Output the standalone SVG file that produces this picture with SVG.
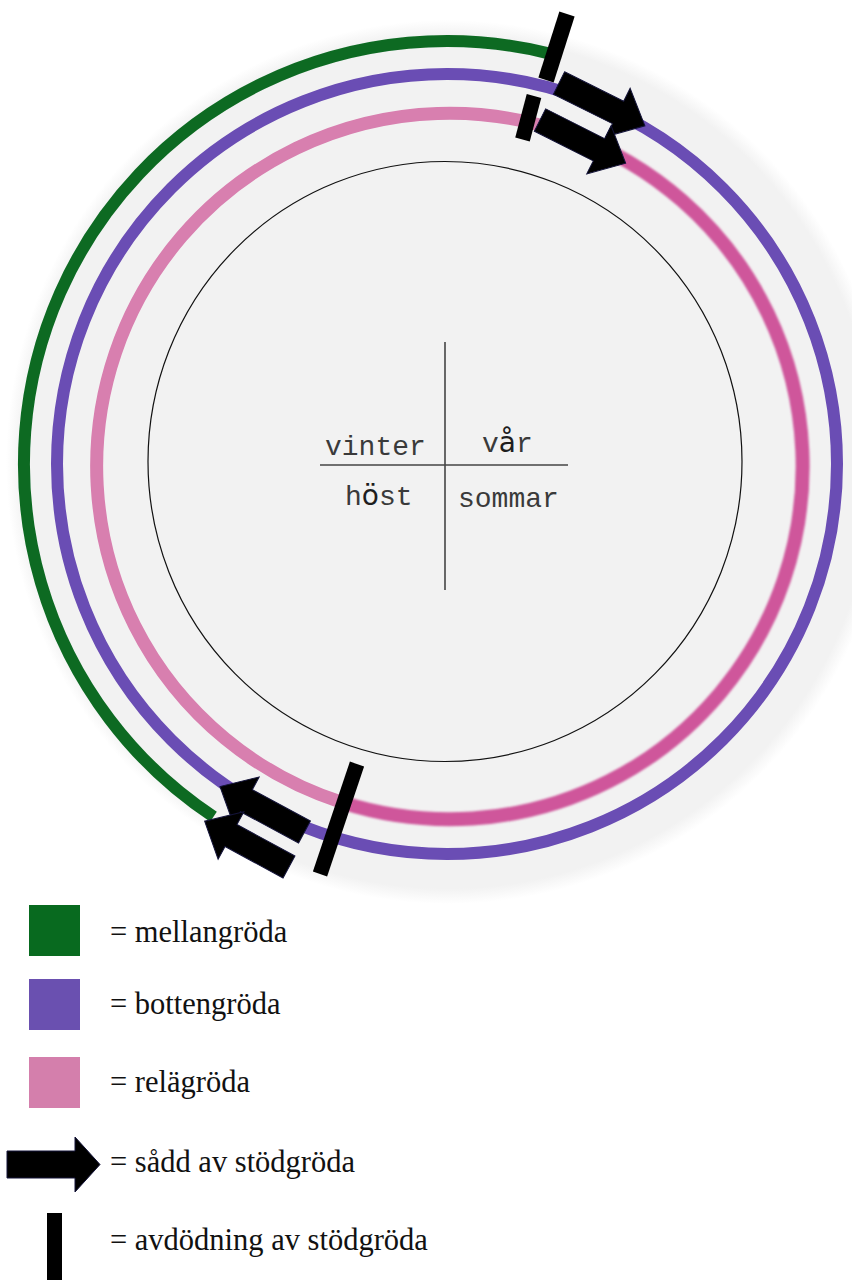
<svg xmlns="http://www.w3.org/2000/svg" width="852" height="1280" viewBox="0 0 852 1280">
  <defs>
    <style>
      .ring { fill: none; stroke-linecap: butt; }
      .green { stroke: #0b6a22; stroke-width: 12; }
      .purple { stroke: #6a4db4; stroke-width: 12; }
      .pink-light { stroke: #d87faf; stroke-width: 13; }
      .pink-dark { stroke: #cf579b; stroke-width: 14; }
      .bar { stroke: #000; stroke-linecap: butt; }
      .arrow { fill: #000; stroke: #14143a; stroke-width: 1; stroke-linejoin: miter; }
      .season { font-family: "Liberation Mono", "DejaVu Sans Mono", monospace; font-size: 28px; fill: #3a3a3a; }
      .season .acc { font-family: "DejaVu Sans", sans-serif; fill: #1e1e1e; }
      .legend { font-family: "Liberation Serif", "Times New Roman", serif; font-size: 30.5px; fill: #111; }
    </style>
    <radialGradient id="bgGrad" cx="448" cy="462" r="442" gradientUnits="userSpaceOnUse">
      <stop offset="0" stop-color="#f2f2f2"/>
      <stop offset="0.965" stop-color="#f2f2f2"/>
      <stop offset="1" stop-color="#ffffff"/>
    </radialGradient>
    <filter id="soft" x="-5%" y="-5%" width="110%" height="110%">
      <feGaussianBlur stdDeviation="0.6"/>
    </filter>
    <filter id="softer" x="-5%" y="-5%" width="110%" height="110%">
      <feGaussianBlur stdDeviation="1.3"/>
    </filter>
    <!-- block arrow pointing along +x, tail at the origin -->
    <path id="arrowShape" d="M0,-12.5 L66,-12.5 L66,-27 L96,0 L66,27 L66,12.5 L0,12.5 Z"/>
  </defs>

  <rect width="852" height="1280" fill="#ffffff"/>

  <!-- pale disc behind the year wheel -->
  <circle id="background" cx="448" cy="462" r="442" fill="url(#bgGrad)"/>

  <!-- seasons: inner circle and quadrant cross -->
  <g id="seasons">
    <ellipse cx="445" cy="461.5" rx="297" ry="300" fill="none" stroke="#111" stroke-width="1.2"/>
    <line x1="445" y1="342" x2="445" y2="590" stroke="#444" stroke-width="1.6"/>
    <line x1="320" y1="465" x2="568" y2="465" stroke="#444" stroke-width="1.6"/>
    <text class="season" x="325" y="455">vinter</text>
    <text class="season" x="482" y="452">v<tspan class="acc">å</tspan>r</text>
    <text class="season" x="345" y="505">h<tspan class="acc">ö</tspan>st</text>
    <text class="season" x="458" y="507">sommar</text>
  </g>

  <!-- crop rings -->
  <g id="ring-mellangroda" filter="url(#soft)">
    <path class="ring green" d="M213.5,816.7 A423,423 0 0 1 550.8,53.9"/>
  </g>
  <g id="ring-bottengroda" filter="url(#soft)">
    <circle class="ring purple" cx="447" cy="464" r="390"/>
  </g>
  <g id="ring-relagroda">
    <path class="ring pink-light" filter="url(#soft)" d="M342.8,802.7 A353,353 0 1 1 569.7,134.3"/>
    <path class="ring pink-dark" filter="url(#softer)" d="M569.7,134.3 A353,353 0 0 1 342.8,802.7"/>
  </g>

  <!-- sowing and termination of the cover crop -->
  <g id="events">
    <g id="termination-top">
      <line class="bar" x1="567" y1="14" x2="546" y2="80" stroke-width="16"/>
      <line class="bar" x1="534" y1="96" x2="522.5" y2="139.5" stroke-width="15"/>
    </g>
    <g id="sowing-top">
      <use href="#arrowShape" class="arrow" transform="translate(559,83) rotate(26.5)"/>
      <use href="#arrowShape" class="arrow" transform="translate(540,120) rotate(26.8)"/>
    </g>
    <g id="termination-bottom">
      <line class="bar" x1="357" y1="764" x2="320" y2="874" stroke-width="15"/>
    </g>
    <g id="sowing-bottom">
      <use href="#arrowShape" class="arrow" transform="translate(304.5,832) rotate(208.3)"/>
      <use href="#arrowShape" class="arrow" transform="translate(289,867) rotate(208.5)"/>
    </g>
  </g>

  <!-- legend -->
  <g id="legend">
    <g id="legend-mellangroda">
      <rect x="29" y="905" width="51" height="51" fill="#086a1f"/>
      <text class="legend" x="110" y="942">= mellangröda</text>
    </g>
    <g id="legend-bottengroda">
      <rect x="29" y="979" width="51" height="51" fill="#6a50b0"/>
      <text class="legend" x="110" y="1014">= bottengröda</text>
    </g>
    <g id="legend-relagroda">
      <rect x="29" y="1057" width="51" height="51" fill="#d47fac"/>
      <text class="legend" x="110" y="1092">= relägröda</text>
    </g>
    <g id="legend-sadd">
      <path class="arrow" d="M7,1151 L75,1151 L75,1137 L100,1164.5 L75,1192 L75,1178 L7,1178 Z"/>
      <text class="legend" x="110" y="1172">= sådd av stödgröda</text>
    </g>
    <g id="legend-avdodning">
      <rect x="47" y="1213" width="15" height="67" fill="#000"/>
      <text class="legend" x="110" y="1250">= avdödning av stödgröda</text>
    </g>
  </g>
</svg>
